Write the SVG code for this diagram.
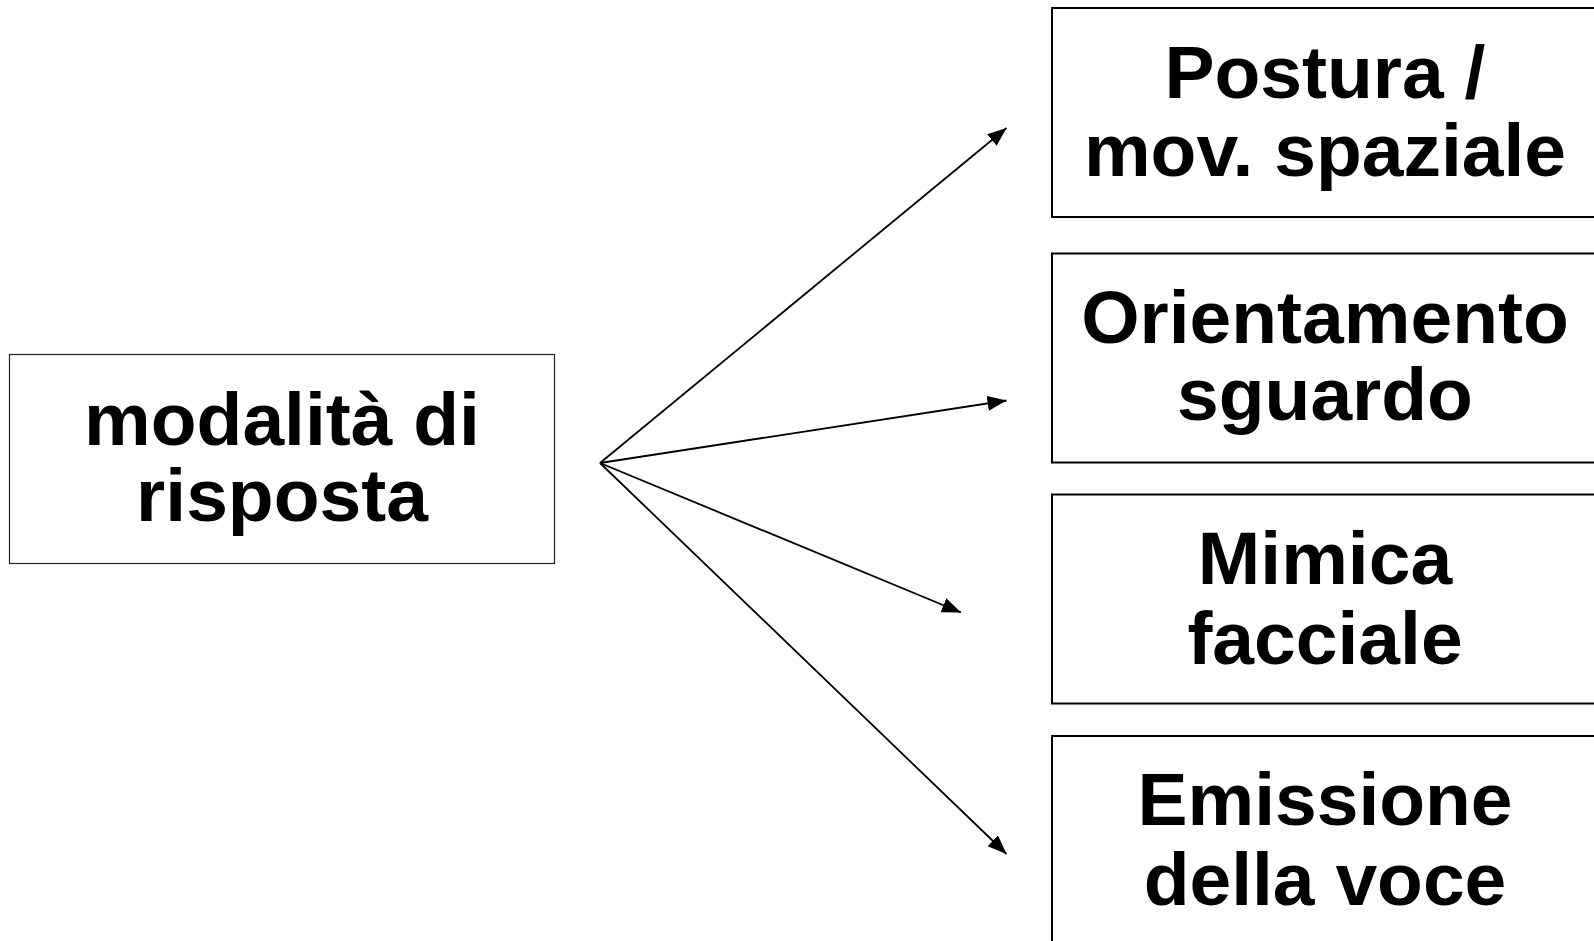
<svg xmlns="http://www.w3.org/2000/svg" width="1594" height="941" viewBox="0 0 1594 941">
<style>
.box{fill:#fff;stroke:#000;stroke-width:2}
.lbl{font-family:"Liberation Sans",Arial,sans-serif;font-weight:bold;font-size:75px;fill:#000;text-anchor:middle}
.conn{stroke:#000;stroke-width:1.8;fill:none;marker-end:url(#ah)}
</style>
<defs>
<marker id="ah" markerUnits="userSpaceOnUse" markerWidth="22" markerHeight="16" refX="19" refY="7.5" orient="auto">
<path d="M0,0 L19,7.5 L0,15 z" fill="#000"/>
</marker>
</defs>
<rect width="1594" height="941" fill="#fff"/>
<g id="n-modalita">
<rect class="box" x="9.5" y="354.5" width="545" height="209" style="stroke-width:1.2;stroke:#222"/>
<text class="lbl" x="282" y="445">modalità di</text>
<text class="lbl" x="282" y="521">risposta</text>
</g>
<g id="n-postura">
<rect class="box" x="1052" y="8" width="545" height="209"/>
<text class="lbl" x="1325" y="98">Postura /</text>
<text class="lbl" x="1325" y="176">mov. spaziale</text>
</g>
<g id="n-orientamento">
<rect class="box" x="1052" y="253.5" width="545" height="209"/>
<text class="lbl" x="1325" y="343">Orientamento</text>
<text class="lbl" x="1325" y="420">sguardo</text>
</g>
<g id="n-mimica">
<rect class="box" x="1052" y="494.5" width="545" height="209"/>
<text class="lbl" x="1325" y="584">Mimica</text>
<text class="lbl" x="1325" y="664">facciale</text>
</g>
<g id="n-emissione">
<rect class="box" x="1052" y="736" width="545" height="209"/>
<text class="lbl" x="1325" y="825">Emissione</text>
<text class="lbl" x="1325" y="905">della voce</text>
</g>
<g id="connectors">
<line class="conn" x1="600" y1="463" x2="1006.5" y2="128"/>
<line class="conn" x1="600" y1="463" x2="1006.5" y2="400.5"/>
<line class="conn" x1="600" y1="463" x2="961" y2="612.5"/>
<line class="conn" x1="600" y1="463" x2="1006.5" y2="854"/>
</g>
</svg>
